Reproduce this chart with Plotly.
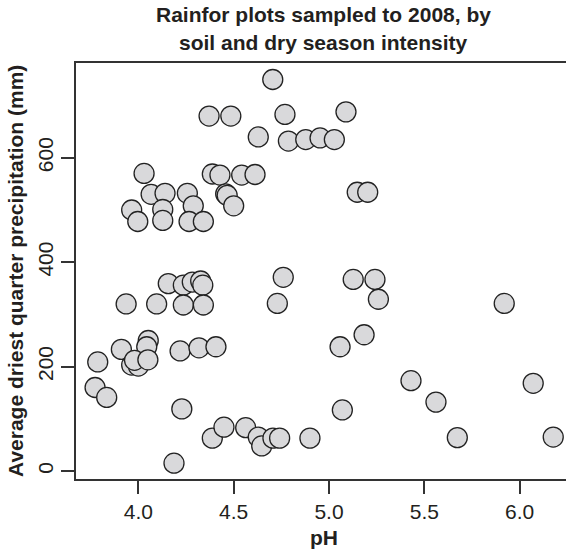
import plotly.graph_objects as go

# pH values and average driest quarter precipitation (mm)
ph = [
    4.705, 4.371, 4.485, 4.769, 5.089, 4.629, 4.787, 4.878, 4.953, 5.028,
    4.030, 4.388, 4.428, 4.542, 4.612, 4.067, 4.140, 4.257, 4.288, 4.458,
    4.466, 4.500, 3.965, 4.128, 3.997, 4.128, 4.266, 4.341, 5.148, 5.203,
    4.760, 5.127, 5.241, 4.157, 4.236, 4.283, 4.327, 4.338, 3.936, 4.096,
    4.236, 4.341, 4.729, 5.259, 5.919, 5.184, 5.058, 4.052, 3.911, 4.044,
    4.219, 4.318, 4.407, 3.787, 3.965, 4.000, 3.980, 4.050,
    3.773, 3.834, 4.228, 4.187, 5.430, 6.071, 5.561, 5.070, 4.388, 4.449,
    4.563, 4.629, 4.647, 4.706, 4.741, 4.900, 5.673, 6.176,
]
precip = [
    750, 680, 680, 683, 688, 640, 632, 635, 638, 635,
    570, 569, 567, 567, 568, 530, 532, 532, 508, 531,
    528, 508, 500, 501, 478, 480, 478, 478, 534, 534,
    371, 367, 367, 359, 356, 362, 364, 356, 320, 320,
    318, 318, 321, 329, 321, 261, 238, 250, 233, 238,
    230, 236, 238, 209, 203, 201, 212, 213,
    160, 141, 119, 15, 173, 168, 132, 117, 63, 84,
    83, 65, 48, 63, 63, 63, 64, 65,
]

x_ticks = [4.0, 4.5, 5.0, 5.5, 6.0]
x_tick_labels = ["4.0", "4.5", "5.0", "5.5", "6.0"]
y_ticks = [0, 200, 400, 600]
y_tick_labels = ["0", "200", "400", "600"]

title_line1 = "Rainfor plots sampled to 2008, by"
title_line2 = "soil and dry season intensity"
x_title = "pH"
y_title = "Average driest quarter precipitation (mm)"

FONT = "Liberation Sans, Arial, Helvetica, sans-serif"
INK = "#231f20"
AX = "#333333"

fig = go.Figure()
fig.add_trace(go.Scatter(
    x=ph, y=precip, mode="markers",
    marker=dict(size=20, color="#d9d9db", line=dict(color="#222222", width=1.3)),
    hoverinfo="x+y", showlegend=False,
))

fig.update_layout(
    width=566, height=552,
    margin=dict(l=76, r=0, t=63, b=73),
    paper_bgcolor="white", plot_bgcolor="white",
    font=dict(family=FONT, color=INK),
    xaxis=dict(
        range=[3.673, 6.243], tickvals=x_ticks, ticktext=x_tick_labels,
        ticks="outside", ticklen=13, tickwidth=1.5, tickcolor=AX,
        showline=True, linecolor=AX, linewidth=1.5, mirror=True,
        showgrid=False, zeroline=False,
        tickfont=dict(size=21, family=FONT, color=INK),
    ),
    yaxis=dict(
        range=[-15.3, 781.6], tickvals=y_ticks, ticktext=y_tick_labels,
        ticks="outside", ticklen=13, tickwidth=1.5, tickcolor=AX,
        showline=True, linecolor=AX, linewidth=1.5, mirror=False,
        showgrid=False, zeroline=False, tickangle=-90,
        tickfont=dict(size=21, family=FONT, color=INK),
    ),
    annotations=[
        dict(text="<b>%s</b>" % title_line1, x=0.506, y=(479 - 15) / 416, xref="paper", yref="paper",
             xanchor="center", yanchor="middle", showarrow=False,
             font=dict(size=21, family=FONT, color=INK)),
        dict(text="<b>%s</b>" % title_line2, x=0.506, y=(479 - 43) / 416, xref="paper", yref="paper",
             xanchor="center", yanchor="middle", showarrow=False,
             font=dict(size=21, family=FONT, color=INK)),
        dict(text="<b>%s</b>" % x_title, x=0.506, y=(479 - 537) / 416, xref="paper", yref="paper",
             xanchor="center", yanchor="middle", showarrow=False,
             font=dict(size=21, family=FONT, color=INK)),
        dict(text="<b>%s</b>" % y_title, x=(15 - 76) / 490, y=0.5, xref="paper", yref="paper",
             xanchor="center", yanchor="middle", showarrow=False, textangle=-90,
             font=dict(size=21, family=FONT, color=INK)),
    ],
)

fig.write_html("out.html")
